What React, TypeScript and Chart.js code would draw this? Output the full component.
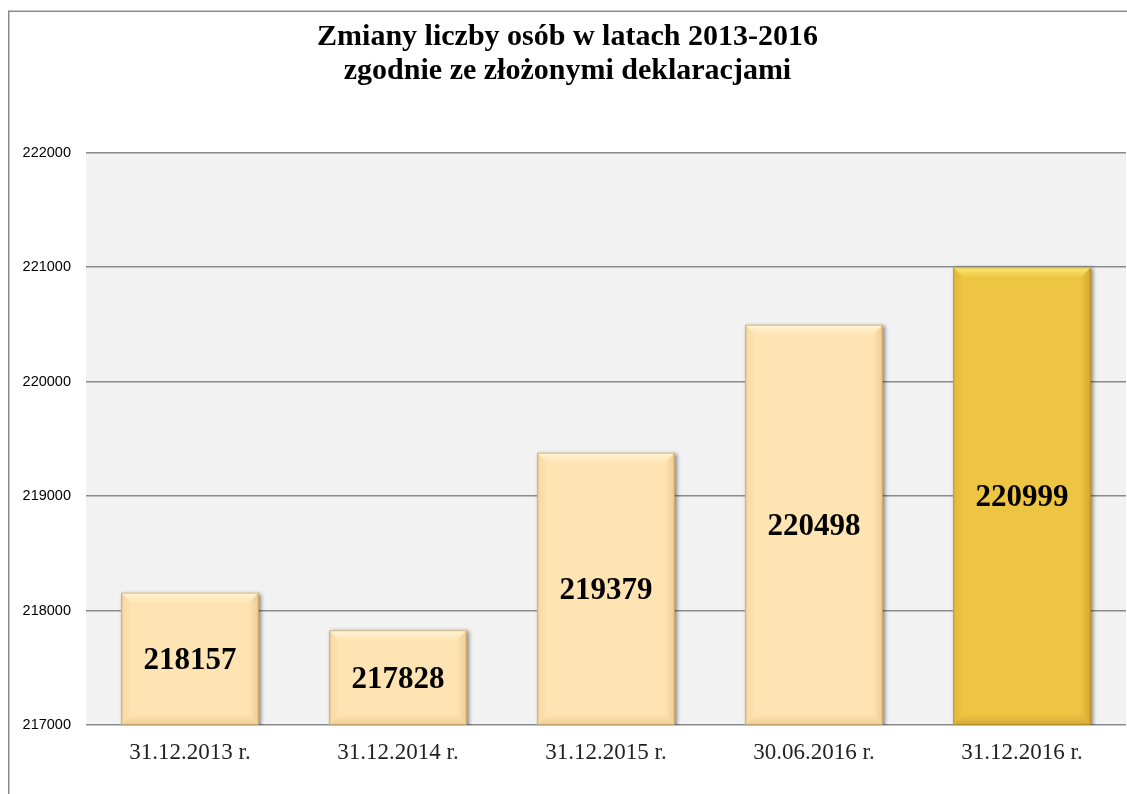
import React, { useEffect, useRef } from "react";
import { Chart, registerables } from "chart.js";

Chart.register(...registerables);

const categories = ["31.12.2013 r.", "31.12.2014 r.", "31.12.2015 r.", "30.06.2016 r.", "31.12.2016 r."];
const values = [218157, 217828, 219379, 220498, 220999];
const titleLines = ["Zmiany liczby osób w latach 2013-2016", "zgodnie ze złożonymi deklaracjami"];
const yMin = 217000;
const yMax = 222000;
const yStep = 1000;

const PEACH = { base: "#fee4b3", top: "#fff3d4", bottom: "#efcd93", side: "#f5d8a3" };
const GOLD = { base: "#eec443", top: "#fbe96c", bottom: "#d5a832", side: "#e3b73c" };
const palette = [PEACH, PEACH, PEACH, PEACH, GOLD];

const SERIF = "'Liberation Serif', 'Times New Roman', serif";
const SANS = "'Liberation Sans', Arial, sans-serif";

const decorPlugin = {
  id: "decor",
  beforeDraw(chart: any) {
    const { ctx, chartArea: a } = chart;
    ctx.save();
    ctx.fillStyle = "#f2f2f2";
    ctx.fillRect(a.left, a.top, a.right - a.left, a.bottom - a.top);
    ctx.strokeStyle = "#8a8a8a";
    ctx.lineWidth = 1.5;
    ctx.strokeRect(8.75, 11.25, chart.width + 40, chart.height + 40);
    ctx.restore();
  },
  beforeDatasetsDraw(chart: any) {
    const ctx = chart.ctx;
    ctx.save();
    ctx.shadowColor = "rgba(0,0,0,0.45)";
    ctx.shadowBlur = 4;
    ctx.shadowOffsetX = 2;
    ctx.shadowOffsetY = 1;
  },
  afterDatasetsDraw(chart: any) {
    const ctx = chart.ctx;
    ctx.restore();
    const meta = chart.getDatasetMeta(0);
    const bottomLimit = chart.chartArea.bottom;
    meta.data.forEach((bar: any, i: number) => {
      const { x, y, base, width } = bar.getProps(["x", "y", "base", "width"], true);
      const l = x - width / 2;
      const r = x + width / 2;
      const t = Math.min(y, base);
      const b = Math.min(Math.max(y, base), bottomLimit);
      const bv = 11;
      const c = palette[i];
      ctx.save();
      const lg = ctx.createLinearGradient(l, 0, l + bv, 0);
      lg.addColorStop(0, c.side);
      lg.addColorStop(1, c.base);
      ctx.fillStyle = lg;
      ctx.beginPath();
      ctx.moveTo(l, t);
      ctx.lineTo(l + bv, t + bv);
      ctx.lineTo(l + bv, b - bv);
      ctx.lineTo(l, b);
      ctx.closePath();
      ctx.fill();
      const rg = ctx.createLinearGradient(r, 0, r - bv, 0);
      rg.addColorStop(0, c.bottom);
      rg.addColorStop(1, c.base);
      ctx.fillStyle = rg;
      ctx.beginPath();
      ctx.moveTo(r, t);
      ctx.lineTo(r - bv, t + bv);
      ctx.lineTo(r - bv, b - bv);
      ctx.lineTo(r, b);
      ctx.closePath();
      ctx.fill();
      const tg = ctx.createLinearGradient(0, t, 0, t + bv);
      tg.addColorStop(0, c.top);
      tg.addColorStop(1, c.base);
      ctx.fillStyle = tg;
      ctx.beginPath();
      ctx.moveTo(l, t);
      ctx.lineTo(r, t);
      ctx.lineTo(r - bv, t + bv);
      ctx.lineTo(l + bv, t + bv);
      ctx.closePath();
      ctx.fill();
      const bg = ctx.createLinearGradient(0, b, 0, b - bv);
      bg.addColorStop(0, c.bottom);
      bg.addColorStop(1, c.base);
      ctx.fillStyle = bg;
      ctx.beginPath();
      ctx.moveTo(l, b);
      ctx.lineTo(r, b);
      ctx.lineTo(r - bv, b - bv);
      ctx.lineTo(l + bv, b - bv);
      ctx.closePath();
      ctx.fill();
      ctx.strokeStyle = "rgba(110,80,30,0.35)";
      ctx.lineWidth = 1;
      ctx.strokeRect(l + 0.5, t + 0.5, width - 1, b - t - 1);
      ctx.fillStyle = "#000";
      ctx.font = `bold 31px ${SERIF}`;
      ctx.textAlign = "center";
      ctx.textBaseline = "middle";
      ctx.fillText(String(values[i]), x, (t + b) / 2 + 2);
      ctx.restore();
    });
  },
};

export default function App() {
  const ref = useRef<HTMLCanvasElement | null>(null);
  useEffect(() => {
    if (!ref.current) return;
    const chart = new Chart(ref.current, {
      type: "bar",
      data: {
        labels: categories,
        datasets: [
          {
            data: values,
            backgroundColor: palette.map((p) => p.base),
            borderWidth: 0,
            categoryPercentage: 1,
            barPercentage: 0.661,
          },
        ],
      },
      options: {
        responsive: false,
        animation: false,
        layout: { padding: { left: 9, right: 1, top: 11, bottom: 0 } },
        plugins: {
          legend: { display: false },
          tooltip: { enabled: false },
          title: {
            display: true,
            text: titleLines,
            color: "#000",
            font: { family: SERIF, size: 30, weight: "bold", lineHeight: 1.13 },
            padding: { top: 9, bottom: 65 },
          },
        },
        scales: {
          x: {
            grid: { display: false, drawTicks: false },
            border: { display: false },
            ticks: { color: "#222", font: { family: SERIF, size: 23 }, padding: 14, maxRotation: 0 },
            afterFit: (s: any) => {
              s.height = 69;
            },
          },
          y: {
            min: yMin,
            max: yMax,
            ticks: {
              stepSize: yStep,
              color: "#000",
              font: { family: SANS, size: 14.5 },
              padding: 15,
              callback: (v: any) => String(v),
            },
            grid: { color: "#8a8a8a", lineWidth: 1.5, drawTicks: false },
            border: { display: false },
            afterFit: (s: any) => {
              s.width = 77;
            },
          },
        },
      },
      plugins: [decorPlugin],
    });
    return () => chart.destroy();
  }, []);
  return (
    <div style={{ position: "fixed", left: 0, top: 0, width: 1127, height: 794, overflow: "hidden", background: "#fff" }}>
      <canvas ref={ref} width={1127} height={794} style={{ width: 1127, height: 794, display: "block" }} />
    </div>
  );
}
